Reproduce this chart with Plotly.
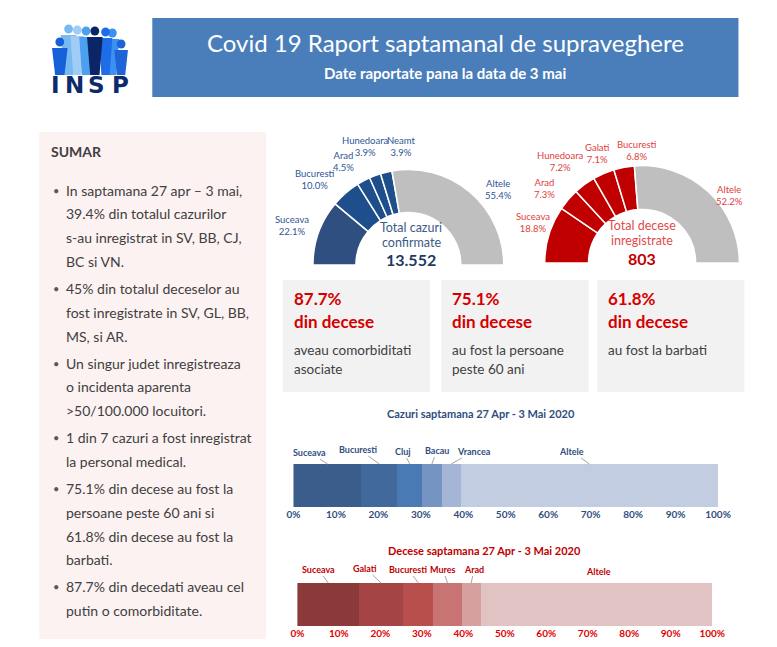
import plotly.graph_objects as go

# the page adds an 8px body margin, so the figure is 16px smaller than the window
W, H = 761, 631
OFF = 8
FONT = 'Lato, Open Sans, sans-serif'

case_counties = ['Suceava', 'Bucuresti', 'Arad', 'Hunedoara', 'Neamt', 'Altele']
case_shares = [22.1, 10.0, 4.5, 3.9, 3.9, 55.4]
case_total = '13.552'

death_counties = ['Suceava', 'Arad', 'Hunedoara', 'Galati', 'Bucuresti', 'Altele']
death_shares = [18.8, 7.3, 7.2, 7.1, 6.8, 52.2]
death_total = '803'

week_case_counties = ['Suceava', 'Bucuresti', 'Cluj', 'Bacau', 'Vrancea', 'Altele']
week_case_shares = [16.0, 8.5, 5.8, 4.6, 4.5, 60.6]

week_death_counties = ['Suceava', 'Galati', 'Bucuresti', 'Mures', 'Arad', 'Altele']
week_death_shares = [14.9, 10.6, 7.3, 6.8, 4.6, 55.8]

pct_ticks = [0, 10, 20, 30, 40, 50, 60, 70, 80, 90, 100]

stat_values = ['87.7%', '75.1%', '61.8%']
stat_labels = [['aveau comorbiditati', 'asociate'],
               ['au fost la persoane', 'peste 60 ani'],
               ['au fost la barbati']]

sumar = [
    ['In saptamana 27 apr – 3 mai,', '39.4% din totalul cazurilor',
     's-au inregistrat in SV, BB, CJ,', 'BC si VN.'],
    ['45% din totalul deceselor au', 'fost inregistrate in SV, GL, BB,', 'MS, si AR.'],
    ['Un singur judet inregistreaza', 'o incidenta aparenta', '>50/100.000 locuitori.'],
    ['1 din 7 cazuri a fost inregistrat', 'la personal medical.'],
    ['75.1% din decese au fost la', 'persoane peste 60 ani si',
     '61.8% din decese au fost la', 'barbati.'],
    ['87.7% din decedati aveau cel', 'putin o comorbiditate.'],
]

# ---- styles / placement (window pixels) ----
CASE_COLORS = ['#2f4f80', '#1f4e8c', '#1f4e8c', '#1f4e8c', '#1f4e8c', '#bfbfbf']
DEATH_COLORS = ['#c00000', '#c00000', '#c00000', '#c00000', '#c00000', '#bfbfbf']
WEEK_CASE_COLORS = ['#3a5d8c', '#41699b', '#4a7ab4', '#7594c4', '#a4b5d6', '#c3cde2']
WEEK_DEATH_COLORS = ['#8b3a3a', '#a44444', '#b84f4c', '#c87474', '#d6a09f', '#e2c3c4']

CASE_LABEL_POS = [(292, 225), (316, 179), (345, 162), (368, 146), (405, 146), (505, 189)]
DEATH_LABEL_POS = [(540, 223), (552, 188), (568, 162), (606, 153), (647, 150), (742, 196)]
WEEK_CASE_OFFS = [(-18, -12), (-21, -15), (-7, -13), (5, -14), (23, -13), (-18, -13)]
WEEK_DEATH_OFFS = [(-10, -14), (-16, -15), (-10, -14), (-5, -14), (3, -14), (2, -12)]

BLUE_TXT = '#2f5597'
RED_TXT = '#c00000'
GREY_TXT = '#404040'


def X(v):
    return (v - OFF) / W


def Y(v):
    return 1 - (v - OFF) / H


fig = go.Figure()


def note(x, y, text, size, color, anchor='left', bold=False, family=FONT):
    if bold:
        text = '<b>' + text + '</b>'
    fig.add_annotation(x=X(x), y=Y(y), xref='paper', yref='paper', text=text,
                       showarrow=False, xanchor=anchor, yanchor='middle', align='center',
                       font=dict(family=family, size=size, color=color))


def rect(x0, y0, x1, y1, fill):
    fig.add_shape(type='rect', xref='paper', yref='paper', x0=X(x0), x1=X(x1),
                  y0=Y(y1), y1=Y(y0), fillcolor=fill, line=dict(width=0), layer='below')


def half_donut(names, shares, colors, cx, cy, r, label_pos, label_color):
    n = len(shares)
    fig.add_trace(go.Pie(
        values=shares + [sum(shares)], labels=names + ['_hidden'],
        sort=False, direction='clockwise', rotation=270, hole=0.55,
        marker=dict(colors=colors + ['rgba(0,0,0,0)'],
                    line=dict(color=['white'] * n + ['rgba(0,0,0,0)'], width=1.5)),
        textinfo='none', hoverinfo='skip', showlegend=False,
        domain=dict(x=[X(cx - r), X(cx + r)], y=[Y(cy + r), Y(cy - r)])))
    for name, v, (lx, ly) in zip(names, shares, label_pos):
        note(lx, ly, f'{name}<br>{v:.1f}%', 9.5, label_color, anchor='center')


def week_bar(names, shares, colors, offs, xa, ya, label_color, no_line=()):
    start = 0
    for name, v, c, (dx, dy) in zip(names, shares, colors, offs):
        fig.add_trace(go.Bar(x=[v], y=[0], orientation='h', width=1, xaxis=xa, yaxis=ya,
                             marker=dict(color=c, line=dict(width=0)),
                             hoverinfo='skip', showlegend=False))
        fig.add_annotation(x=start + v / 2, y=0.5, xref=xa, yref=ya,
                           text='<b>' + name + '</b>', showarrow=True, arrowhead=0,
                           arrowwidth=1,
                           arrowcolor='rgba(0,0,0,0)' if name in no_line else '#a6a6a6',
                           ax=dx, ay=dy, font=dict(family=FONT, size=9, color=label_color))
        start += v


# background panels
rect(149, 18, 751, 97, '#4a7ebb')
rect(33, 132, 266, 660, '#fcf2f2')
for bx in [283, 446, 606]:
    rect(bx, 280, bx + 151, 392, '#f2f2f2')

# logo: little crowd + INSP
people = [(63, 29, '#79b9f2', 8), (72, 30, '#a0cdf5', 7), (81, 31, '#4d9ff0', 7),
          (108, 33, '#3d8ff2', 7), (54, 42, '#1560d8', 8), (101, 32, '#1d6ee6', 7),
          (90, 31, '#0b2566', 8), (117, 44, '#1d64d6', 7)]
for x, hy, c, w in people:
    fig.add_shape(type='circle', xref='paper', yref='paper', x0=X(x - 4.5), x1=X(x + 4.5),
                  y0=Y(hy + 4.5), y1=Y(hy - 4.5), fillcolor=c, line=dict(width=0))
    path = (f'M {X(x - w)} {Y(hy + 6)} L {X(x + w)} {Y(hy + 6)} '
            f'L {X(x + w * 0.6)} {Y(75)} L {X(x - w * 0.6)} {Y(75)} Z')
    fig.add_shape(type='path', xref='paper', yref='paper', path=path,
                  fillcolor=c, line=dict(width=0))
for letter, lx in zip('INSP', [50, 69, 92, 116]):
    note(lx, 85, letter, 23, '#0d2a6a', anchor='center', bold=True, family='DejaVu Sans')

# header
note(450, 43, 'Covid 19 Raport saptamanal de supraveghere', 24, 'white', anchor='center')
note(450, 73, 'Date raportate pana la data de 3 mai', 15, 'white', anchor='center', bold=True)

# sumar
note(43, 151, 'SUMAR', 14, GREY_TXT, bold=True)
y = 190
for bullet in sumar:
    note(50, y, '•', 11, '#595959', anchor='center')
    for line in bullet:
        note(58, y, line, 14, GREY_TXT)
        y += 23.8
    y += 27 - 23.8

# donuts
half_donut(case_counties, case_shares, CASE_COLORS, 412, 265, 98, CASE_LABEL_POS, BLUE_TXT)
note(415, 227, 'Total cazuri', 12.5, '#3c5a85', anchor='center')
note(415, 242, 'confirmate', 12.5, '#3c5a85', anchor='center')
note(415, 259, case_total, 16, '#1f3864', anchor='center', bold=True)

half_donut(death_counties, death_shares, DEATH_COLORS, 652, 263, 100, DEATH_LABEL_POS, '#e04040')
note(652, 225, 'Total decese', 12.5, '#e04b4b', anchor='center')
note(652, 240, 'inregistrate', 12.5, '#e04b4b', anchor='center')
note(652, 258, death_total, 16, RED_TXT, anchor='center', bold=True)

# stat boxes
for bx, val, lines in zip([292, 455, 615], stat_values, stat_labels):
    note(bx, 298, val, 17, '#d40000', bold=True)
    note(bx, 321, 'din decese', 17, '#d40000', bold=True)
    for i, line in enumerate(lines):
        note(bx, 350 + i * 19, line, 13.5, GREY_TXT)

# weekly bars
note(487, 413, 'Cazuri saptamana 27 Apr - 3 Mai 2020', 11, '#2f4e7e', anchor='center', bold=True)
week_bar(week_case_counties, week_case_shares, WEEK_CASE_COLORS, WEEK_CASE_OFFS,
         'x', 'y', '#2f4e7e')
note(490, 550, 'Decese saptamana 27 Apr - 3 Mai 2020', 11, RED_TXT, anchor='center', bold=True)
week_bar(week_death_counties, week_death_shares, WEEK_DEATH_COLORS, WEEK_DEATH_OFFS,
         'x2', 'y2', RED_TXT, no_line=('Altele',))

axis_common = dict(range=[0, 100], tickvals=pct_ticks, ticktext=[f'{t}%' for t in pct_ticks],
                   showgrid=False, zeroline=False, showline=False, ticks='', fixedrange=True)

fig.update_layout(
    width=W, height=H, margin=dict(l=0, r=0, t=0, b=0),
    paper_bgcolor='white', plot_bgcolor='rgba(0,0,0,0)',
    barmode='stack', showlegend=False,
    xaxis=dict(domain=[X(294), X(730)], anchor='y',
               tickfont=dict(family=FONT, size=10, color='#2f4e7e', weight='bold'), **axis_common),
    yaxis=dict(domain=[Y(507), Y(464)], range=[-0.5, 0.5], visible=False, anchor='x',
               fixedrange=True),
    xaxis2=dict(domain=[X(298), X(724)], anchor='y2',
                tickfont=dict(family=FONT, size=10, color='#e00000', weight='bold'), **axis_common),
    yaxis2=dict(domain=[Y(626), Y(583)], range=[-0.5, 0.5], visible=False, anchor='x2',
                fixedrange=True),
)

fig.write_html('out.html')
